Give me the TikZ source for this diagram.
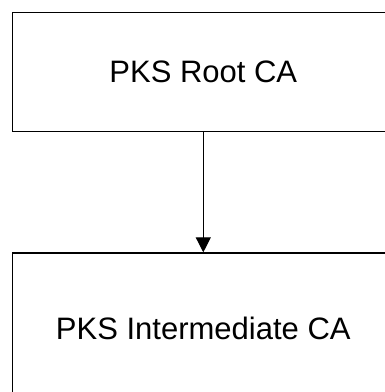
\documentclass[tikz,border=0pt]{standalone}
\usepackage{fontspec}
\setmainfont{Liberation Sans}
\usetikzlibrary{arrows.meta,positioning}

\begin{document}
\begin{tikzpicture}[
  x=1pt, y=1pt,
  font=\fontsize{31}{37}\selectfont,
  cabox/.style={draw, line width=1.2pt, minimum width=382pt, inner sep=0pt},
  node distance=120pt,
  >={Triangle[length=15pt, width=15pt]},
]
\useasboundingbox (0,0) rectangle (385,392);
\clip (0,0) rectangle (385,392);
\node[cabox, minimum height=119.5pt] (root) at (203.3,320) {PKS Root CA};
\node[cabox, minimum height=150pt, below=of root] (inter) {PKS Intermediate CA};
\draw[->, line width=1.2pt] (root) -- (inter);
\end{tikzpicture}
\end{document}
